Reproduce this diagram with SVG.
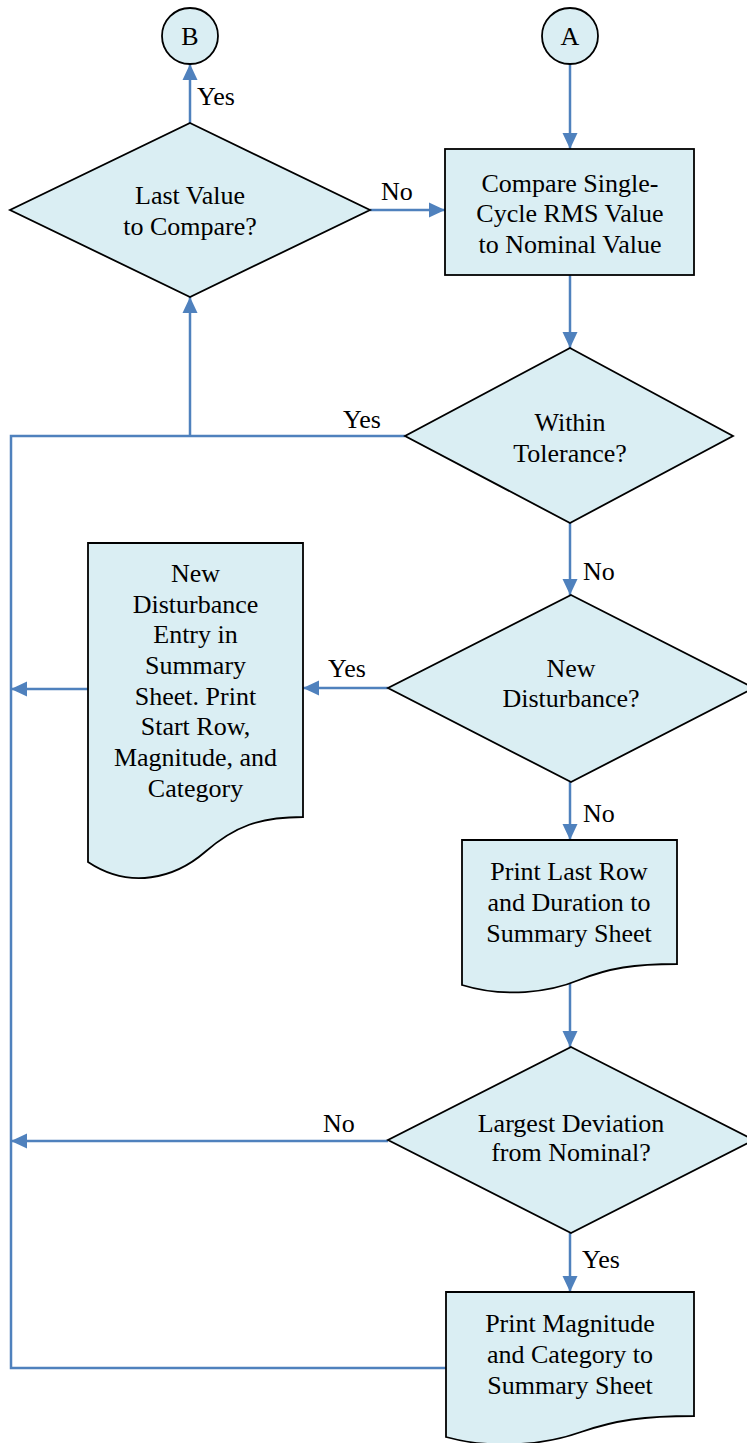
<svg xmlns="http://www.w3.org/2000/svg" width="747" height="1443" viewBox="0 0 747 1443">
<defs>
<style>
.node{fill:#DAEEF3;stroke:#000;stroke-width:1.8;stroke-linejoin:miter}
.t{font-family:"Liberation Serif","Times New Roman",serif;font-size:26px;fill:#000;text-anchor:middle}
.l{font-family:"Liberation Serif","Times New Roman",serif;font-size:26px;fill:#000}
.c{fill:none;stroke:#4F81BD;stroke-width:2.5}
</style>
<marker id="ah" markerWidth="16" markerHeight="16" viewBox="0 0 16 16" refX="16" refY="8" orient="auto" markerUnits="userSpaceOnUse">
<path d="M0,0.5 L16,8 L0,15.5 Z" fill="#4F81BD"/>
</marker>
</defs>
<rect width="747" height="1443" fill="#fff"/>
<g id="connectors">
<path class="c" d="M570,64 V149" marker-end="url(#ah)"/>
<path class="c" d="M190,123 V64" marker-end="url(#ah)"/>
<path class="c" d="M370,210 H445" marker-end="url(#ah)"/>
<path class="c" d="M570,275 V348" marker-end="url(#ah)"/>
<path class="c" d="M405,436 H11 V1368 H446"/>
<path class="c" d="M190,436 V297" marker-end="url(#ah)"/>
<path class="c" d="M570,523 V595" marker-end="url(#ah)"/>
<path class="c" d="M388,688 H303" marker-end="url(#ah)"/>
<path class="c" d="M88,689 H11" marker-end="url(#ah)"/>
<path class="c" d="M570,782 V840" marker-end="url(#ah)"/>
<path class="c" d="M570,981 V1047" marker-end="url(#ah)"/>
<path class="c" d="M388,1141 H11" marker-end="url(#ah)"/>
<path class="c" d="M570,1233 V1292" marker-end="url(#ah)"/>
<text class="l" x="197" y="105">Yes</text>
<text class="l" x="381" y="200">No</text>
<text class="l" x="343" y="428">Yes</text>
<text class="l" x="583" y="580">No</text>
<text class="l" x="328" y="677">Yes</text>
<text class="l" x="583" y="822">No</text>
<text class="l" x="323" y="1132">No</text>
<text class="l" x="582" y="1268">Yes</text>
</g>
<g id="nodeB">
<ellipse class="node" cx="190" cy="36" rx="28" ry="28"/>
<text class="t" x="190" y="45">B</text>
</g>
<g id="nodeA">
<ellipse class="node" cx="570" cy="36" rx="28" ry="28"/>
<text class="t" x="570" y="45">A</text>
</g>
<g id="lastValue">
<polygon class="node" points="190,123 370,210 190,297 10,210"/>
<text class="t" x="190" y="204">Last Value</text>
<text class="t" x="190" y="235">to Compare?</text>
</g>
<g id="compare">
<rect class="node" x="445" y="149" width="249" height="126"/>
<text class="t" x="570" y="192">Compare Single-</text>
<text class="t" x="570" y="222">Cycle RMS Value</text>
<text class="t" x="570" y="253">to Nominal Value</text>
</g>
<g id="withinTolerance">
<polygon class="node" points="570,348 733,436 570,523 405,436"/>
<text class="t" x="570" y="431">Within</text>
<text class="t" x="570" y="462">Tolerance?</text>
</g>
<g id="newDisturbance">
<polygon class="node" points="571,595 754,688 571,782 388,688"/>
<text class="t" x="571" y="677">New</text>
<text class="t" x="571" y="707">Disturbance?</text>
</g>
<g id="newEntry">
<path class="node" d="M88,543 H303 V817 C260,817 235,826 205,852 C175,878 130,890 88,862 Z"/>
<text class="t" x="195.5" y="582">New</text>
<text class="t" x="195.5" y="613">Disturbance</text>
<text class="t" x="195.5" y="643">Entry in</text>
<text class="t" x="195.5" y="674">Summary</text>
<text class="t" x="195.5" y="705">Sheet. Print</text>
<text class="t" x="195.5" y="735">Start Row,</text>
<text class="t" x="195.5" y="766">Magnitude, and</text>
<text class="t" x="195.5" y="797">Category</text>
</g>
<g id="printLastRow">
<path class="node" d="M462,840 H677 V964 C634,964 609,968 579,980 C549,992.5 504,998 462,985 Z"/>
<text class="t" x="569" y="880">Print Last Row</text>
<text class="t" x="569" y="911">and Duration to</text>
<text class="t" x="569" y="942">Summary Sheet</text>
</g>
<g id="largestDeviation">
<polygon class="node" points="571,1047 754,1140 571,1233 388,1140"/>
<text class="t" x="571" y="1132">Largest Deviation</text>
<text class="t" x="571" y="1161">from Nominal?</text>
</g>
<g id="printMagnitude">
<path class="node" d="M446,1292 H694 V1416 C644,1416 616,1420 581,1432 C546,1444.5 494,1450 446,1437 Z"/>
<text class="t" x="570" y="1332">Print Magnitude</text>
<text class="t" x="570" y="1363">and Category to</text>
<text class="t" x="570" y="1394">Summary Sheet</text>
</g>
</svg>
